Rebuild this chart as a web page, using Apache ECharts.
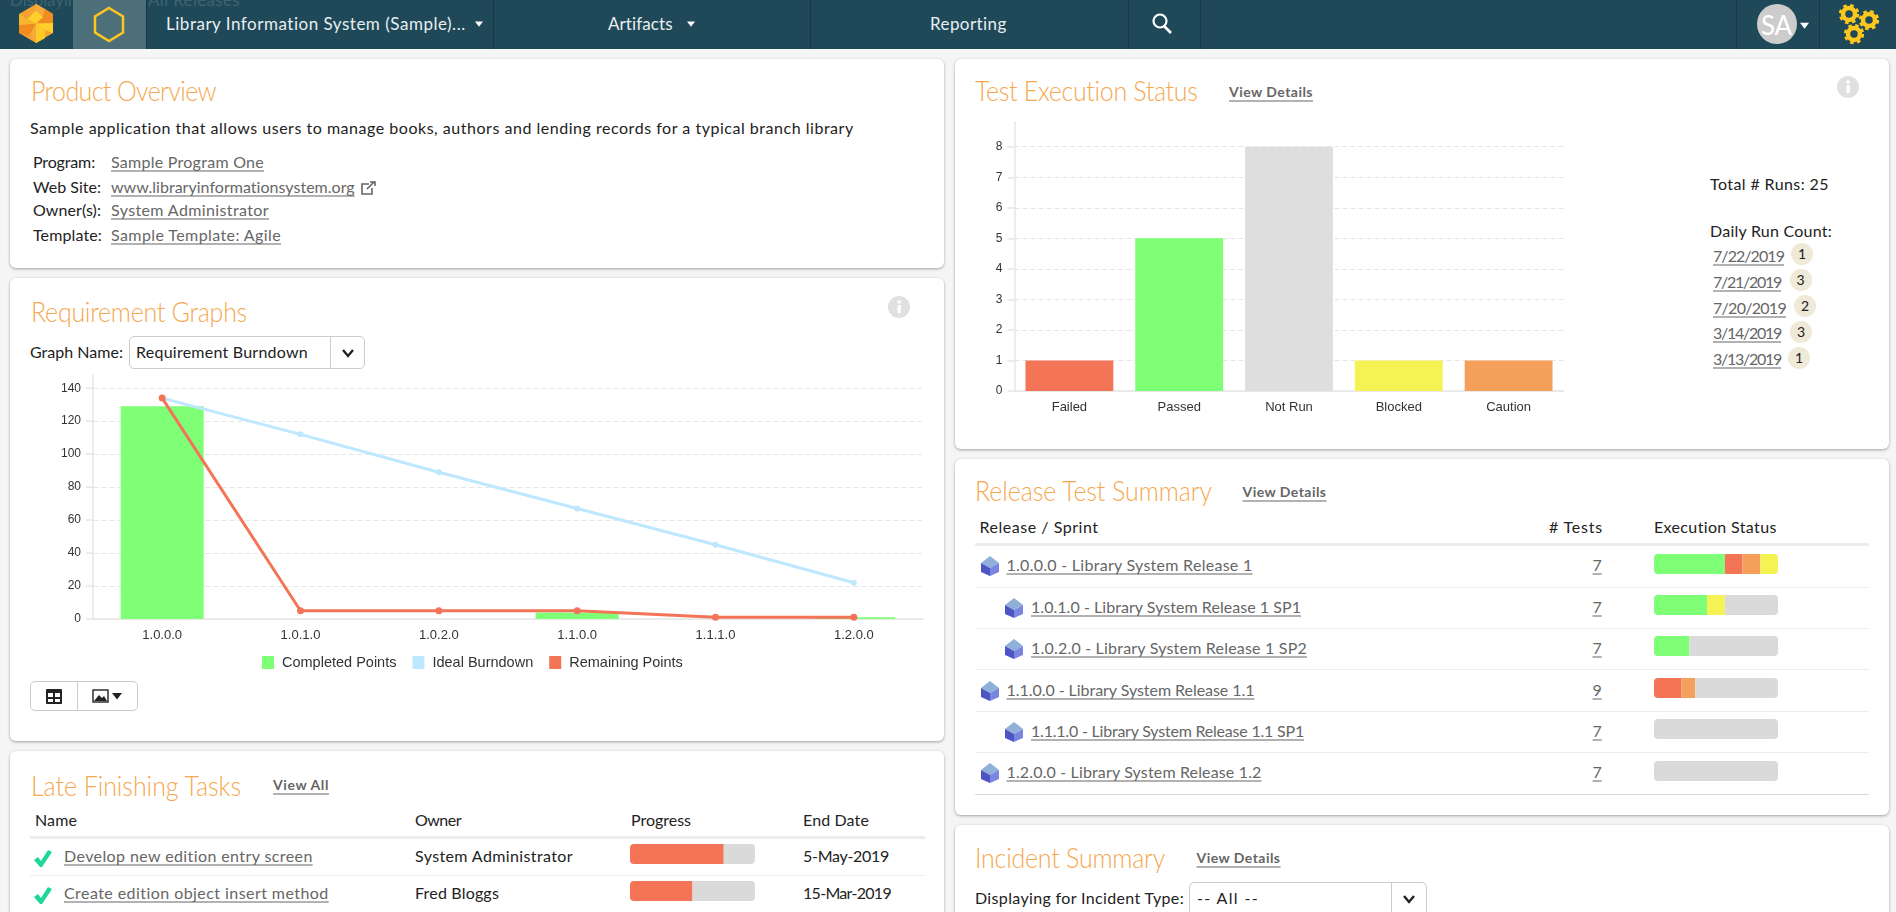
<!DOCTYPE html>
<html>
<head>
<meta charset="utf-8">
<title>Product Home</title>
<script src="https://cdn.jsdelivr.net/npm/echarts@6/dist/echarts.min.js"></script>
<style>
html,body{margin:0;padding:0;width:1896px;height:912px;overflow:hidden;background:#f5f5f5;font-family:Lato,"Open Sans",sans-serif;color:#222;}
#nav{position:absolute;left:0;top:0;width:1896px;height:49px;background:#1f4959;}
.sep{position:absolute;top:0;width:1px;height:49px;background:#163846;}
.card{position:absolute;background:#fff;border-radius:6px;box-shadow:0 1px 3px rgba(0,0,0,.35);}
.t{position:absolute;white-space:nowrap;transform:translateY(calc(-50% - 1.5px));font-size:16px;line-height:20px;}
.title{font-size:25px;font-weight:300;color:#f5a84f;line-height:30px;transform:translateY(-50%) scaleY(1.12);}
.link{color:#666;text-decoration:underline;text-underline-offset:3px;}
.more{font-size:14px;font-weight:700;color:#666;text-decoration:underline;text-underline-offset:4px;}
.navt{color:#e8eef0;font-size:17px;}
.sa{color:#fff;font-size:26px;z-index:4;}
.rule{position:absolute;background:#ececec;}
.box{position:absolute;border:1px solid #ccc;border-radius:5px;background:#fff;box-sizing:border-box;}
.mini{position:absolute;border-radius:4px;overflow:hidden;}
.badge{position:absolute;width:22px;height:22px;border-radius:11px;background:#efe9d8;font-size:14px;line-height:22px;text-align:center;transform:translate(-50%,-50%);}
svg{position:absolute;}
#burndown,#execution{position:absolute;}
</style>
</head>
<body>
<div id="nav"></div>
<div id="burndown" style="left:40px;top:365px;width:900px;height:320px;z-index:2"></div>
<div id="execution" style="left:980px;top:110px;width:600px;height:320px;z-index:2"></div>
<script>
// requirement burndown
var releases = ['1.0.0.0','1.0.1.0','1.0.2.0','1.1.0.0','1.1.1.0','1.2.0.0'];
var completedPoints = [129,0,0,4,0,1];
var idealBurndown = [134,112,89,67,45,22];
var remainingPoints = [134,5,5,5,1,1];
// test execution status
var execNames = ['Failed','Passed','Not Run','Blocked','Caution'];
var execCounts = [1,5,8,1,1];
var execColors = ['#f47457','#7eff76','#dedede','#f5f254','#f4a05a'];
var dailyDates = ['7/22/2019','7/21/2019','7/20/2019','3/14/2019','3/13/2019'];
var dailyCounts = [1,3,2,3,1];
// release test summary
var releaseNames = ['1.0.0.0 - Library System Release 1','1.0.1.0 - Library System Release 1 SP1','1.0.2.0 - Library System Release 1 SP2','1.1.0.0 - Library System Release 1.1','1.1.1.0 - Library System Release 1.1 SP1','1.2.0.0 - Library System Release 1.2'];
var releaseTests = [7,7,7,9,7,7];
var releaseIndent = [0,1,1,0,1,0];
var runPassed = [4,3,2,0,0,0];
var runFailed = [1,0,0,2,0,0];
var runCaution = [1,0,0,1,0,0];
var runBlocked = [1,1,0,0,0,0];
var runNotRun = [0,3,5,6,7,7];
// late finishing tasks
var taskNames = ['Develop new edition entry screen','Create edition object insert method'];
var taskOwners = ['System Administrator','Fred Bloggs'];
var taskDates = ['5-May-2019','15-Mar-2019'];
var taskDone = [75,50];
var taskLeft = [25,50];

var body = document.body;
function card(x,y,w,h){
	var d = document.createElement('div');
	d.className = 'card';
	d.style.cssText = 'left:'+x+'px;top:'+y+'px;width:'+w+'px;height:'+h+'px';
	body.appendChild(d);
}
// text placed by its vertical centre, fit stretches it to the measured width
function text(x,y,str,cls,fit){
	var d = document.createElement('span');
	d.className = 't '+(cls||'');
	d.textContent = str;
	d.style.left = x+'px';
	d.style.top = y+'px';
	body.appendChild(d);
	if(fit){
		d.style.letterSpacing = ((fit-d.getBoundingClientRect().width)/String(str).length)+'px';
	}
	return d;
}
function rule(x,y,w,h,color){
	var d = document.createElement('div');
	d.className = 'rule';
	d.style.cssText = 'left:'+x+'px;top:'+y+'px;width:'+w+'px;height:'+h+'px;'+(color?'background:'+color:'');
	body.appendChild(d);
}
function svg(x,y,w,h,inner){
	var d = document.createElement('div');
	d.innerHTML = '<svg style="left:'+x+'px;top:'+y+'px;z-index:3" width="'+w+'" height="'+h+'" viewBox="0 0 '+w+' '+h+'">'+inner+'</svg>';
	body.appendChild(d);
}
function selectBox(x,y,w,h,divX,str,textX,fit,textY){
	var d = document.createElement('div');
	d.className = 'box';
	d.style.cssText = 'left:'+x+'px;top:'+y+'px;width:'+w+'px;height:'+h+'px';
	body.appendChild(d);
	rule(divX,y,1,h,'#ccc');
	text(textX,textY,str,'',fit);
	chevron(divX+(x+w-divX)/2-7,textY-5);
}
function chevron(x,y){
	svg(x,y,14,10,'<path d="M2 2 L7 8 L12 2" fill="none" stroke="#222" stroke-width="2.4"/>');
}
function info(x,y){
	svg(x,y,22,22,'<circle cx="11" cy="11" r="11" fill="#e0e0e0"/><rect x="9.5" y="9" width="3.4" height="8" fill="#fff"/><rect x="9.5" y="4.5" width="3.4" height="3" fill="#fff"/>');
}
function caret(x,y,w,color){
	svg(x,y,w,w,'<path d="M0 '+(w*0.2)+' L'+w+' '+(w*0.2)+' L'+(w/2)+' '+(w*0.85)+' Z" fill="'+color+'"/>');
}
function cube(x,y){
	svg(x,y,18,20,'<polygon points="9,0 18,7 9,12 0,7" fill="#8fb0d8"/><polygon points="0,7 9,12 9,20 0,16" fill="#4d55c5"/><polygon points="18,7 9,12 9,20 18,16" fill="#7a85e0"/>');
}
function check(x,y){
	svg(x,y,18,17,'<polygon points="0,10 4,7 7,11 14,0 18,2 8,17 6,17" fill="#1ed79a"/>');
}
function gear(cx,cy,r){
	var c = 2*Math.PI*r*0.9;
	return '<circle cx="'+cx+'" cy="'+cy+'" r="'+(r*0.6)+'" fill="none" stroke="#fcc81e" stroke-width="'+(r*0.45)+'"/>'+
		'<circle cx="'+cx+'" cy="'+cy+'" r="'+(r*0.88)+'" fill="none" stroke="#fcc81e" stroke-width="'+(r*0.28)+'" stroke-dasharray="'+(c/16)+' '+(c/16)+'"/>';
}

// page chrome
text(10,1,'Displaying:','navt',80).style.color = '#3d6371';
text(148,1,'All Releases','navt',92).style.color = '#3d6371';
rule(73,0,73,49,'#4d6f7a');
[146,493,810,1128,1200,1736,1819].forEach(function(x){
	var d = document.createElement('div');
	d.className = 'sep';
	d.style.left = x+'px';
	body.appendChild(d);
});
svg(19,4,34,39,
	'<polygon points="17,0 34,10 34,29 17,39 0,29 0,10" fill="#f5a030"/>'+
	'<polygon points="17,0 26,5 24,13 17,19.5 12,11" fill="#f7a93a"/>'+
	'<polygon points="26,5 34,10 34,19 17,19.5 24,13" fill="#f08c20"/>'+
	'<polygon points="8,15 17,7 24,13 17,19.5" fill="#ffcf2a"/>'+
	'<polygon points="34,19 34,29 26,26 17,19.5" fill="#ffcf2a"/>'+
	'<polygon points="26,34 17,39 10,28 17,19.5" fill="#f7a93a"/>'+
	'<polygon points="10,32 0,29 0,21 17,19.5" fill="#f08c20"/>'+
	'<polygon points="0,21 0,10 8,15 17,19.5" fill="#f7b52e"/>'+
	'<polygon points="17,39 26,34 26,26 17,19.5" fill="#ffc926"/>');
svg(93,6,32,37,'<polygon points="16,2 30,10.5 30,26.5 16,35 2,26.5 2,10.5" fill="none" stroke="#ffc61e" stroke-width="2.5"/>');
text(166,24.5,'Library Information System (Sample)...','navt',300);
caret(475,20,8,'#fff');
text(608,24.5,'Artifacts','navt',65);
caret(687,20,8,'#fff');
text(930,24.5,'Reporting','navt',77);
svg(1151,13,24,21,'<circle cx="9" cy="8" r="6.5" fill="none" stroke="#fff" stroke-width="2.2"/><path d="M13 13 L20 20" stroke="#fff" stroke-width="2.6"/>');
svg(1757,4,41,40,'<circle cx="20" cy="20" r="20" fill="#cccccc"/>');
text(1761,25.5,'SA','sa',31);
caret(1800,21,9,'#fff');
svg(1839,3,42,42,gear(10,11,10)+gear(30,17,10)+gear(15,31,10));

card(10,59,934,209);
card(10,278,934,463);
card(10,751,934,200);
card(955,59,934,390);
card(955,459,934,356);
card(955,825,934,120);

// product overview
text(31,90,'Product Overview','title',185);
text(30,129,'Sample application that allows users to manage books, authors and lending records for a typical branch library','',824);
text(33,163,'Program:','',62);
text(111,163,'Sample Program One','link',153);
text(33,188,'Web Site:','',68);
text(111,188,'www.libraryinformationsystem.org','link',244);
svg(360,181,16,14,'<path d="M9 3 H2 V13 H12 V7" fill="none" stroke="#666" stroke-width="1.6"/><path d="M7 8 L14 1 M10 1 H15 V5" fill="none" stroke="#666" stroke-width="1.6"/>');
text(33,211,'Owner(s):','',68);
text(111,211,'System Administrator','link',158);
text(33,236,'Template:','',69);
text(111,236,'Sample Template: Agile','link',170);

// requirement graphs
text(31,311,'Requirement Graphs','title',216);
info(888,296);
text(30,353,'Graph Name:','',93);
selectBox(129,336,236,33,330,'Requirement Burndown',136,172,353);
var btn = document.createElement('div');
btn.className = 'box';
btn.style.cssText = 'left:30px;top:681px;width:108px;height:30px';
body.appendChild(btn);
rule(77,681,1,30,'#ccc');
svg(46,689,16,15,'<rect x="0" y="0" width="16" height="15" rx="1" fill="#222"/><rect x="2" y="4" width="5" height="4" fill="#fff"/><rect x="9" y="4" width="5" height="4" fill="#fff"/><rect x="2" y="10" width="5" height="3" fill="#fff"/><rect x="9" y="10" width="5" height="3" fill="#fff"/>');
svg(92,689,17,14,'<rect x="1" y="1" width="15" height="12" fill="none" stroke="#222" stroke-width="1.4"/><path d="M2 12 L7 6 L10 9 L12 7 L15 12 Z" fill="#222"/>');
caret(112,691,10,'#222');

// late finishing tasks
text(31,785,'Late Finishing Tasks','title',210);
text(273,786,'View All','more',56);
text(35,821,'Name','',42);
text(415,821,'Owner','',46);
text(631,821,'Progress','',60);
text(803,821,'End Date','',66);
rule(30,836,895,3);
var taskY = [857,894];
var taskBarY = [844,881];
taskNames.forEach(function(name,i){
	check(34,taskY[i]-7);
	text(64,taskY[i],name,'link',i==0?249:265);
	text(415,taskY[i],taskOwners[i],'',i==0?158:84);
	text(803,taskY[i],taskDates[i],'',i==0?86:88);
});
rule(30,875,895,1);

// test execution status
text(975,90,'Test Execution Status','title',223);
text(1229,93,'View Details','more',84);
info(1837,76);
text(1710,185,'Total # Runs: 25','',119);
text(1710,232,'Daily Run Count:','',122);
var dailyY = [257,283,309,334,360];
var badgeX = [1802,1800.5,1805,1801,1799];
var badgeY = [254,280,306,332,358];
var dailyW = [71,68,73,68,68];
dailyDates.forEach(function(date,i){
	text(1713,dailyY[i],date,'link',dailyW[i]);
	var b = document.createElement('div');
	b.className = 'badge';
	b.style.left = badgeX[i]+'px';
	b.style.top = badgeY[i]+'px';
	b.textContent = dailyCounts[i];
	body.appendChild(b);
});

// release test summary
text(975,490,'Release Test Summary','title',237);
text(1242.5,493,'View Details','more',84);
text(979.5,528,'Release / Sprint','',119);
text(1549,528,'# Tests','',54);
text(1654,528,'Execution Status','',123);
rule(975,543,894,3);
var releaseY = [566,608,649,691,732,773];
var releaseBarY = [554,595,636,678,719,761];
var releaseRuleY = [587,628,669,711,752];
var releaseW = [246,270,276,248,273,255];
releaseNames.forEach(function(name,i){
	cube(releaseIndent[i]?1005:981,releaseY[i]-10);
	text(releaseIndent[i]?1031:1006.5,releaseY[i],name,'link',releaseW[i]);
	text(1592.5,releaseY[i],releaseTests[i],'link');
});
releaseRuleY.forEach(function(y){ rule(975,y,894,1); });
rule(975,794,894,1,'#d8d8d8');

// incident summary
text(975,857,'Incident Summary','title',190);
text(1196.5,859,'View Details','more',84);
text(975,899,'Displaying for Incident Type:','',209);
selectBox(1189,882,238,40,1391,'-- All --',1197,62,899);

// burndown chart
var burnChart = echarts.init(document.getElementById('burndown'));
burnChart.setOption({
	animation:false,
	textStyle:{fontFamily:'"Liberation Sans",Arial,sans-serif'},
	grid:{left:53,top:10,width:830,height:244},
	legend:{
		left:222,top:290,padding:0,icon:'rect',itemWidth:12,itemHeight:13,itemGap:16,
		textStyle:{fontSize:14.5,color:'#333',padding:[0,0,0,3]},
		data:['Completed Points','Ideal Burndown','Remaining Points']
	},
	xAxis:{
		type:'category',data:releases,
		axisLine:{lineStyle:{color:'#e6e6e6',width:1.5}},
		axisTick:{length:7,lineStyle:{color:'#e6e6e6',width:1.5}},
		axisLabel:{fontSize:13,color:'#333',margin:10}
	},
	yAxis:{
		type:'value',min:0,max:148,interval:20,
		axisLine:{show:true,lineStyle:{color:'#e6e6e6',width:1.5}},
		axisTick:{show:true,length:7,lineStyle:{color:'#e6e6e6',width:1.5}},
		axisLabel:{fontSize:12,color:'#333',margin:12,showMaxLabel:false},
		splitLine:{showMaxLine:false,lineStyle:{type:[5,3],color:'#e6e6e6'}}
	},
	series:[
		{name:'Completed Points',type:'bar',data:completedPoints,barWidth:'60%',itemStyle:{color:'#7eff76'}},
		{name:'Ideal Burndown',type:'line',data:idealBurndown,symbol:'circle',symbolSize:6,itemStyle:{color:'#bde8ff'},lineStyle:{width:3,color:'#bde8ff'}},
		{name:'Remaining Points',type:'line',data:remainingPoints,symbol:'circle',symbolSize:7,itemStyle:{color:'#f47457'},lineStyle:{width:3,color:'#f47457'}}
	]
});

// execution chart
var execChart = echarts.init(document.getElementById('execution'));
execChart.setOption({
	animation:false,
	textStyle:{fontFamily:'"Liberation Sans",Arial,sans-serif'},
	grid:{left:34.5,top:12.3,width:549,height:268.7},
	xAxis:{
		type:'category',data:execNames,
		axisLine:{lineStyle:{color:'#e6e6e6',width:1.5}},
		axisTick:{length:7,lineStyle:{color:'#e6e6e6',width:1.5}},
		axisLabel:{fontSize:13,color:'#333',margin:10}
	},
	yAxis:{
		type:'value',min:0,max:8.8,interval:1,
		axisLine:{show:true,lineStyle:{color:'#e6e6e6',width:1.5}},
		axisTick:{show:true,length:7,lineStyle:{color:'#e6e6e6',width:1.5}},
		axisLabel:{fontSize:12,color:'#333',margin:12,showMaxLabel:false},
		splitLine:{showMaxLine:false,lineStyle:{type:[5,3],color:'#e6e6e6'}}
	},
	series:[{
		type:'bar',barWidth:'80%',
		data:execCounts.map(function(v,i){ return {value:v,itemStyle:{color:execColors[i]}}; })
	}]
});

// small stacked status bars
function miniBar(x,y,w,h,names,values,colors){
	var d = document.createElement('div');
	d.className = 'mini';
	d.style.cssText = 'left:'+x+'px;top:'+y+'px;width:'+w+'px;height:'+h+'px;z-index:2';
	body.appendChild(d);
	var total = values.reduce(function(a,b){ return a+b; },0);
	echarts.init(d).setOption({
		animation:false,
		grid:{left:0,right:0,top:0,bottom:0},
		xAxis:{type:'value',min:0,max:total,show:false},
		yAxis:{type:'category',data:[''],show:false},
		series:values.map(function(v,i){
			return {name:names[i],type:'bar',stack:'all',barWidth:'100%',data:[v],itemStyle:{color:colors[i]}};
		})
	});
}
var runNames = ['Passed','Failed','Caution','Blocked','Not Run'];
var runColors = ['#7eff76','#f47457','#f4a05a','#f5f254','#dadada'];
releaseNames.forEach(function(name,i){
	miniBar(1654,releaseBarY[i],124,20,runNames,[runPassed[i],runFailed[i],runCaution[i],runBlocked[i],runNotRun[i]],runColors);
});
taskNames.forEach(function(name,i){
	miniBar(630,taskBarY[i],125,20,['Done','Left'],[taskDone[i],taskLeft[i]],['#f47457','#dadada']);
});
</script>
</body>
</html>
